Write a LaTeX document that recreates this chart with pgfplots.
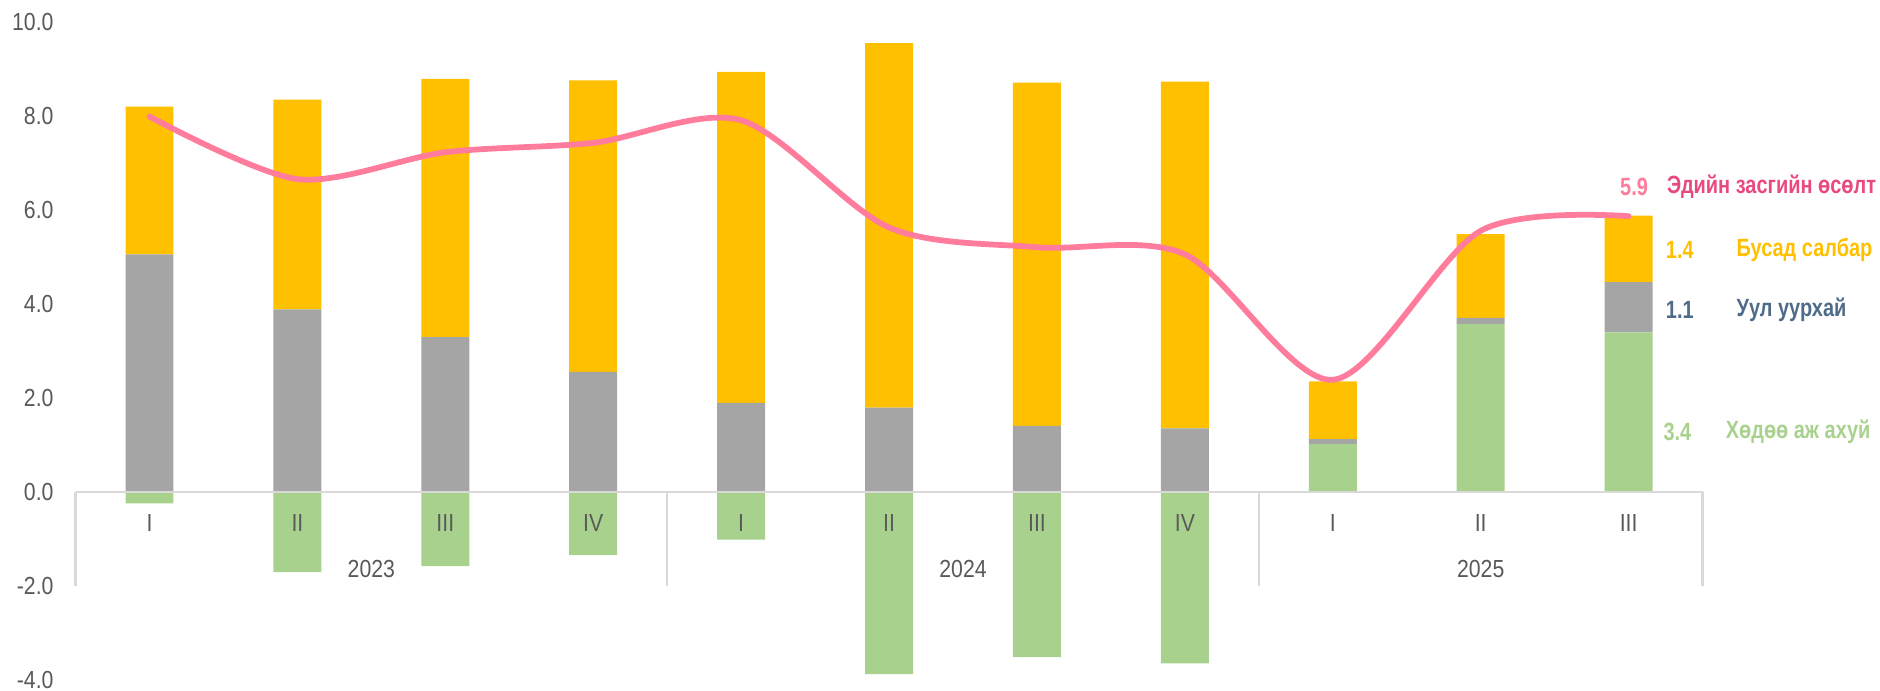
\documentclass[border=0pt]{standalone}
\usepackage{pgfplots}
\pgfplotsset{compat=1.18}
\usepackage{fontspec}
\setmainfont{Liberation Sans}[FakeStretch=0.86]
\newfontfamily\annfont{Liberation Sans}[FakeStretch=0.8]
\usetikzlibrary{calc}
\definecolor{cyel}{HTML}{FFC000}
\definecolor{cgray}{HTML}{A5A5A5}
\definecolor{cgreen}{HTML}{A9D18E}
\definecolor{cpink}{HTML}{FF7C9C}
\definecolor{cpinkd}{HTML}{E84A7F}
\definecolor{cslate}{HTML}{4F6B8A}
\definecolor{ctxt}{HTML}{595959}
\definecolor{caxis}{HTML}{D9D9D9}
\pgfplotsset{base/.style={scale only axis, width=678.5pt, height=274.5pt,
  xmin=-0.5, xmax=10.5, ymin=-4, ymax=10, clip=false,
  axis line style={draw=none}, tick style={draw=none}, xtick=\empty}}
\tikzset{cat/.style={text=ctxt, font=\fontsize{10.3}{12}\selectfont},
  ann/.style={anchor=west, inner sep=0pt, font=\annfont\bfseries\fontsize{10.4}{12}\selectfont}}
\begin{document}
\begin{tikzpicture}
\begin{axis}[base, name=ax, ybar stacked, bar width=20pt,
  ytick={-4,-2,...,10},
  yticklabel style={inner sep=0pt, xshift=-9pt, font=\fontsize{10.3}{12}\selectfont, text=ctxt,
    /pgf/number format/.cd, fixed, fixed zerofill, precision=1, assume math mode=true},
  ]
% positive agriculture
\addplot[fill=cgreen, draw=none] coordinates {(0,0) (1,0) (2,0) (3,0) (4,0) (5,0) (6,0) (7,0) (8,1.02) (9,3.57) (10,3.39)};
% mining
\addplot[fill=cgray, draw=none] coordinates {(0,5.05) (1,3.88) (2,3.29) (3,2.55) (4,1.89) (5,1.79) (6,1.40) (7,1.35) (8,0.10) (9,0.13) (10,1.07)};
% other sectors
\addplot[fill=cyel, draw=none] coordinates {(0,3.14) (1,4.46) (2,5.49) (3,6.20) (4,7.04) (5,7.75) (6,7.30) (7,7.37) (8,1.23) (9,1.78) (10,1.41)};
\coordinate (bbsw) at (rel axis cs:0,0);
\coordinate (bbne) at (rel axis cs:1,1);
\end{axis}
\begin{axis}[base, hide axis, ybar, bar width=20pt, bar shift=0pt]
% negative agriculture
\addplot[fill=cgreen, draw=none] coordinates {(0,-0.25) (1,-1.71) (2,-1.58) (3,-1.35) (4,-1.02) (5,-3.88) (6,-3.52) (7,-3.65)};
\end{axis}
\begin{axis}[base, hide axis]
% x axis line and category separators
\draw[caxis, line width=0.9pt] (axis cs:-0.5,0) -- (axis cs:10.5,0);
\draw[caxis, line width=0.9pt] (axis cs:-0.5,0) -- (axis cs:-0.5,-2);
\draw[caxis, line width=0.9pt] (axis cs:3.5,0) -- (axis cs:3.5,-2);
\draw[caxis, line width=0.9pt] (axis cs:7.5,0) -- (axis cs:7.5,-2);
\draw[caxis, line width=0.9pt] (axis cs:10.5,0) -- (axis cs:10.5,-2);
% category labels
\node[cat] at (axis cs:0,-0.66) {I};
\node[cat] at (axis cs:1,-0.66) {II};
\node[cat] at (axis cs:2,-0.66) {III};
\node[cat] at (axis cs:3,-0.66) {IV};
\node[cat] at (axis cs:4,-0.66) {I};
\node[cat] at (axis cs:5,-0.66) {II};
\node[cat] at (axis cs:6,-0.66) {III};
\node[cat] at (axis cs:7,-0.66) {IV};
\node[cat] at (axis cs:8,-0.66) {I};
\node[cat] at (axis cs:9,-0.66) {II};
\node[cat] at (axis cs:10,-0.66) {III};
\node[cat] at (axis cs:1.5,-1.64) {2023};
\node[cat] at (axis cs:5.5,-1.64) {2024};
\node[cat] at (axis cs:9,-1.64) {2025};
% GDP growth
\addplot[cpink, line width=2.4pt, smooth, mark=none, line cap=round] coordinates {(0,7.98) (1,6.65) (2,7.22) (3,7.42) (4,7.90) (5,5.62) (6,5.20) (7,5.05) (8,2.38) (9,5.55) (10,5.86)};
% right annotations
\node[ann, text=cpink] at (axis cs:9.94,6.48) {5.9};
\node[ann, text=cpinkd] at (axis cs:10.257,6.48) {Эдийн засгийн өсөлт};
\node[ann, text=cyel] at (axis cs:10.249,5.14) {1.4};
\node[ann, text=cyel] at (axis cs:10.727,5.14) {Бусад салбар};
\node[ann, text=cslate] at (axis cs:10.249,3.86) {1.1};
\node[ann, text=cslate] at (axis cs:10.727,3.86) {Уул уурхай};
\node[ann, text=cgreen] at (axis cs:10.233,1.28) {3.4};
\node[ann, text=cgreen] at (axis cs:10.654,1.28) {Хөдөө аж ахуй};
\end{axis}
\pgfresetboundingbox
\useasboundingbox ($(bbsw)+(-31.5pt,-4.5pt)$) rectangle ($(bbne)+(74pt,9pt)$);
\end{tikzpicture}
\end{document}
